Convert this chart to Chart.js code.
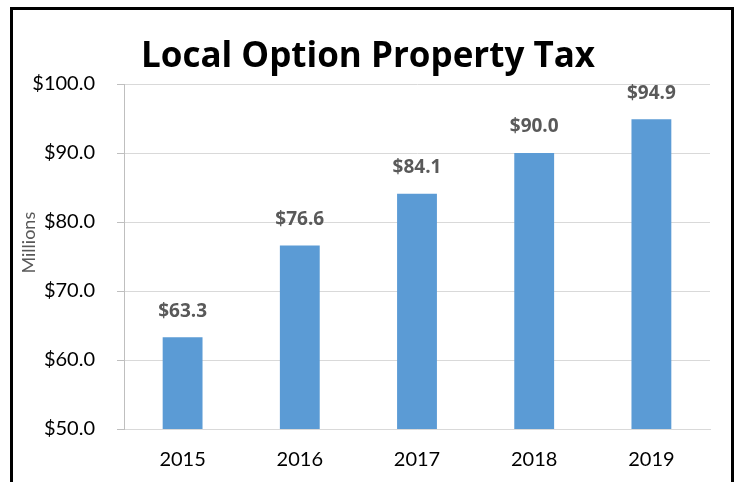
<!DOCTYPE html>
<html>
<head>
<meta charset="utf-8">
<script src="https://cdn.jsdelivr.net/npm/chart.js@4.4.1/dist/chart.umd.min.js"></script>
<style>
  body { margin: 0; background: #fff; }
  #frame {
    position: absolute;
    left: 10px;
    top: 7px;
    width: 718px;
    height: 520px;
    border: 3px solid #000;
    border-bottom: none;
  }
  #chart { position: absolute; left: 0; top: 0; }
</style>
</head>
<body>
<div id="frame"></div>
<canvas id="chart" width="736" height="482"></canvas>
<script>
//Chart values
const years = ['2015', '2016', '2017', '2018', '2019'];
const revenue = [63.3, 76.6, 84.1, 90.0, 94.9];
const axis_min = 50;
const axis_max = 100;
const axis_step = 10;

const bar_colour = '#5B9BD5';
const grid_colour = '#D9D9D9';
const font_name = 'Lato';
const bold_font = 'Open Sans';

//Draws the value above each bar
const valueLabels = {
    id: 'valueLabels',
    afterDatasetsDraw(chart) {
        const ctx = chart.ctx;
        const meta = chart.getDatasetMeta(0);
        ctx.save();
        ctx.font = 'bold 19px "' + bold_font + '"';
        ctx.fillStyle = '#595959';
        ctx.textAlign = 'center';
        ctx.textBaseline = 'middle';
        meta.data.forEach(function(bar, i) {
            ctx.fillText('$' + revenue[i].toFixed(1), bar.x, bar.y - 26);
        });
        ctx.restore();
    }
};

//Axis unit label, sits a bit above the middle of the axis like the original
const unitLabel = {
    id: 'unitLabel',
    afterDraw(chart) {
        const ctx = chart.ctx;
        const y = chart.scales.y;
        ctx.save();
        ctx.translate(29, y.getPixelForValue(77));
        ctx.rotate(-Math.PI / 2);
        ctx.font = '18px ' + font_name;
        ctx.fillStyle = '#595959';
        ctx.textAlign = 'center';
        ctx.textBaseline = 'middle';
        ctx.fillText('Millions', 0, 0);
        ctx.restore();
    }
};

new Chart(document.getElementById('chart'), {
    type: 'bar',
    data: {
        labels: years,
        datasets: [{
            data: revenue,
            backgroundColor: bar_colour,
            barPercentage: 0.34,
            categoryPercentage: 1
        }]
    },
    options: {
        responsive: false,
        animation: false,
        devicePixelRatio: 1,
        layout: {
            //left padding + y axis width = 124
            padding: { left: 26, right: 26, top: 0, bottom: 0 }
        },
        plugins: {
            legend: { display: false },
            tooltip: { enabled: false },
            title: {
                display: true,
                text: 'Local Option Property Tax',
                color: '#000',
                font: { family: bold_font, size: 35, weight: 'bold', lineHeight: 1.2 },
                padding: { top: 36, bottom: 6 }
            }
        },
        scales: {
            x: {
                grid: { display: false, drawTicks: false },
                border: { color: grid_colour, width: 1 },
                ticks: {
                    color: '#000',
                    padding: 19,
                    font: { family: font_name, size: 20 }
                },
                afterFit: function(scale) { scale.height = 53; }
            },
            y: {
                min: axis_min,
                max: axis_max,
                grid: { color: grid_colour, tickLength: 7, tickColor: '#BFBFBF' },
                border: { color: '#BFBFBF', width: 1 },
                ticks: {
                    stepSize: axis_step,
                    color: '#000',
                    padding: 22,
                    font: { family: font_name, size: 20 },
                    callback: function(v) { return '$' + v.toFixed(1); }
                },
                afterFit: function(scale) { scale.width = 98; }
            }
        }
    },
    plugins: [valueLabels, unitLabel]
});
</script>
</body>
</html>
